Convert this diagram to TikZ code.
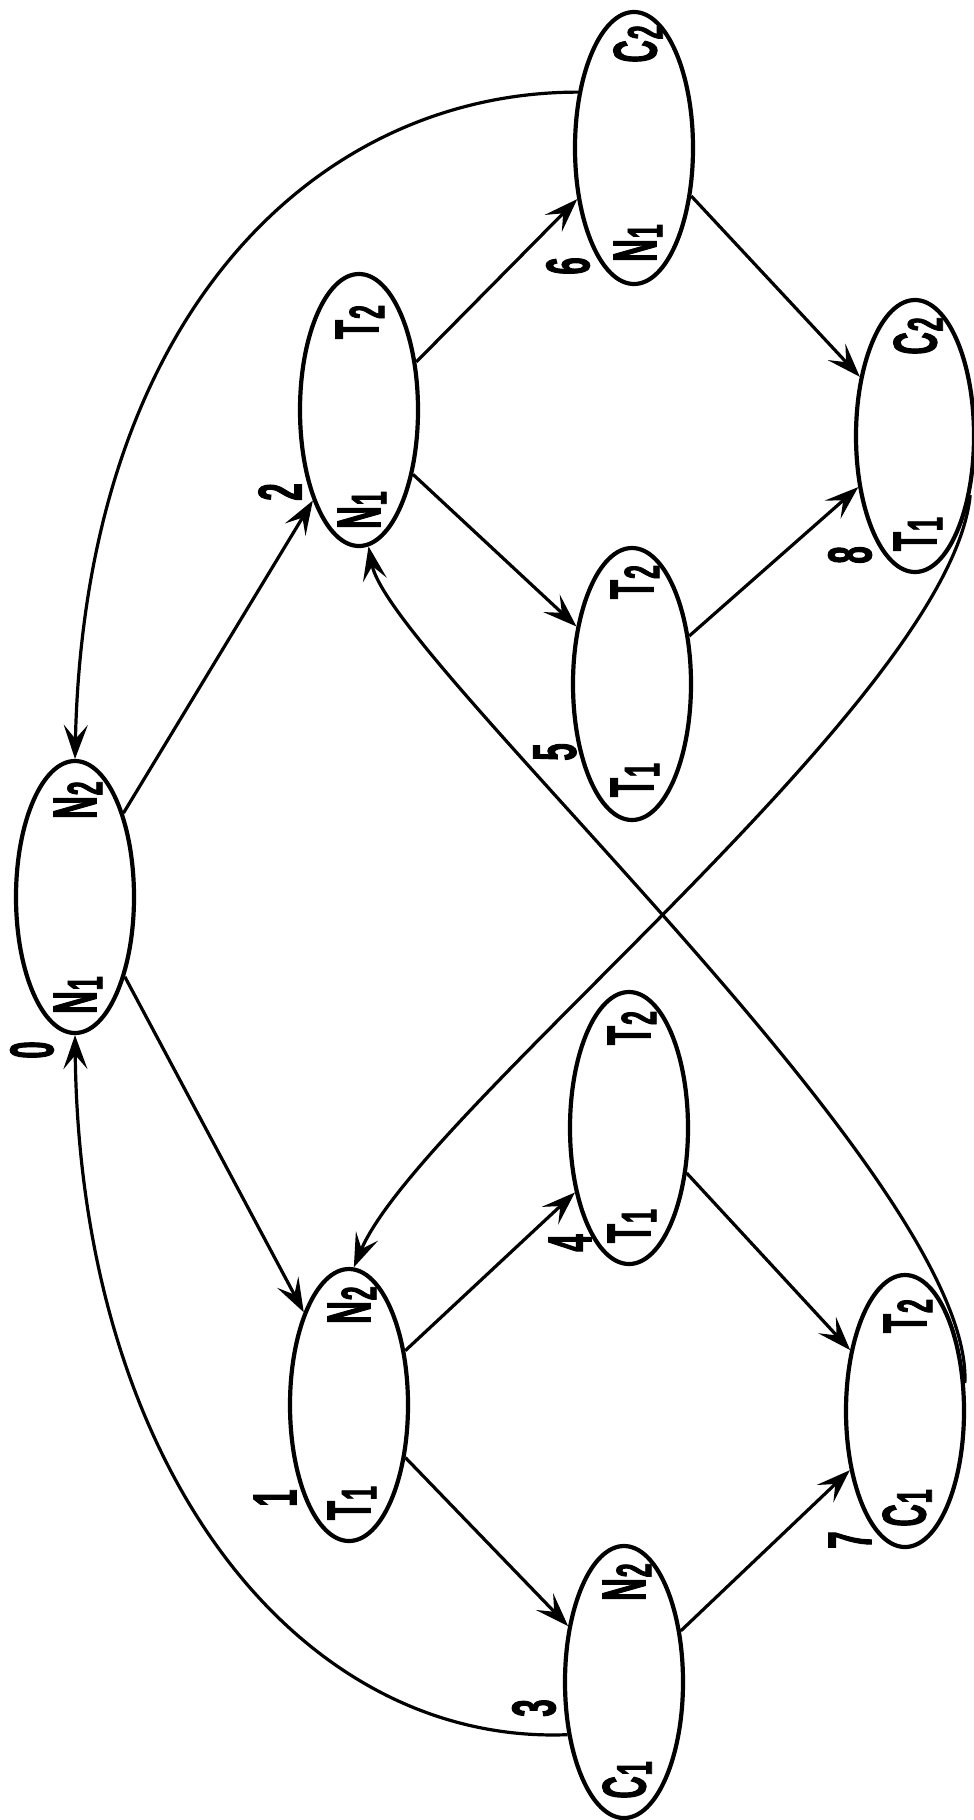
\documentclass[tikz,border=0pt]{standalone}
\usepackage{fontspec}
\newfontfamily\labfont[FakeStretch=0.5,FakeBold=1.5]{Liberation Sans}
\usetikzlibrary{shapes.geometric,arrows.meta}
\newcommand\lsub[2]{#1\hspace{1pt}\raisebox{-6pt}{\fontsize{50}{50}\selectfont #2}}
\begin{document}
\begin{tikzpicture}[x=1pt,y=-1pt,
  state/.style={draw, ellipse, line width=4.2pt, minimum width=118pt, minimum height=272pt, inner sep=0pt},
  lab/.style={rotate=90, font=\labfont\bfseries\fontsize{62}{62}\selectfont, inner sep=0pt},
  num/.style={rotate=90, font=\labfont\bfseries\fontsize{62}{62}\selectfont, inner sep=0pt},
  edge/.style={line width=3.2pt, -{Stealth[length=34pt,width=24pt,inset=14pt]}},
]
\useasboundingbox (0,0) rectangle (974,1820);
% states
\node[state] (n0) at (75,897) {};
\node[state] (n1) at (349,1405) {};
\node[state] (n2) at (359,410) {};
\node[state] (n3) at (624,1682) {};
\node[state] (n4) at (629,1128) {};
\node[state] (n5) at (632,684) {};
\node[state] (n6) at (634,148) {};
\node[state] (n7) at (905,1411) {};
\node[state] (n8) at (915,436) {};
% labels inside states
\node[lab] (l0a) at (78,995) {\lsub{N}{1}};
\node[lab] (l0b) at (78,800) {\lsub{N}{2}};
\node[lab] (l1a) at (352,1503) {\lsub{T}{1}};
\node[lab] (l1b) at (352,1305) {\lsub{N}{2}};
\node[lab] (l2a) at (362,510) {\lsub{N}{1}};
\node[lab] (l2b) at (360,322) {\lsub{T}{2}};
\node[lab] (l3a) at (627,1780) {\lsub{C}{1}};
\node[lab] (l3b) at (627,1582) {\lsub{N}{2}};
\node[lab] (l4a) at (632,1226) {\lsub{T}{1}};
\node[lab] (l4b) at (632,1028) {\lsub{T}{2}};
\node[lab] (l5a) at (635,780) {\lsub{T}{1}};
\node[lab] (l5b) at (635,582) {\lsub{T}{2}};
\node[lab] (l6a) at (638,243) {\lsub{N}{1}};
\node[lab] (l6b) at (638,44) {\lsub{C}{2}};
\node[lab] (l7a) at (907,1508) {\lsub{C}{1}};
\node[lab] (l7b) at (908,1316) {\lsub{T}{2}};
\node[lab] (l8a) at (918,534) {\lsub{T}{1}};
\node[lab] (l8b) at (918,336) {\lsub{C}{2}};
% numbers
\node[num] (k0) at (32,1050) {0};
\node[num] (k1) at (275,1498) {1};
\node[num] (k2) at (280,492) {2};
\node[num] (k3) at (534,1708) {3};
\node[num] (k4) at (570,1243) {4};
\node[num] (k5) at (555,752) {5};
\node[num] (k6) at (568,266) {6};
\node[num] (k7) at (850,1540) {7};
\node[num] (k8) at (850,555) {8};
% straight transitions
\draw[edge] (n0.-58) -- (n1.116);
\draw[edge] (n0.60) -- (n2.-117);
\draw[edge] (n1.44) -- (n4.-130);
\draw[edge] (n1.-43) -- (n3.135);
\draw[edge] (n2.40) -- (n6.-138);
\draw[edge] (n2.-50) -- (n5.134);
\draw[edge] (n6.-40) -- (n8.133);
\draw[edge] (n5.40) -- (n8.-138);
\draw[edge] (n4.-38) -- (n7.132);
\draw[edge] (n3.42) -- (n7.-133);
% curved transitions
\draw[edge] (n6.135) .. controls (320,92) and (85,310) .. (n0.north);
\draw[edge] (n3.223) .. controls (300,1745) and (80,1470) .. (n0.south);
\draw[edge] (n8.-47) .. controls (950,700) and (420,1110) .. (n1.88);
\draw[edge] (n7.25) .. controls (975,1180) and (390,660) .. (n2.-86);
\end{tikzpicture}
\end{document}
